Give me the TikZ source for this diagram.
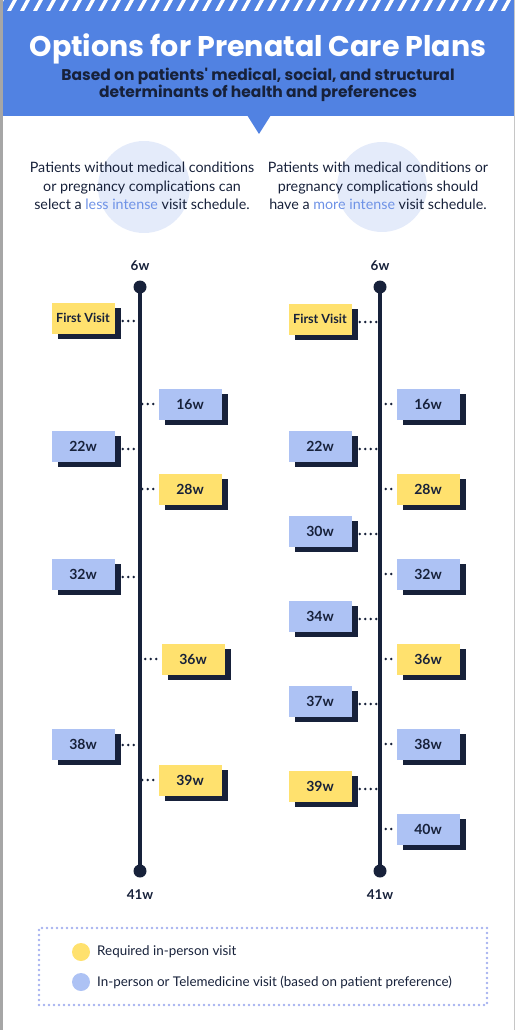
\documentclass[tikz,border=0pt]{standalone}
\usepackage{fontspec}
\setmainfont{Lato}
\newfontfamily\titlefont{Poppins}
\usetikzlibrary{positioning,shadows}
\definecolor{hdrblue}{HTML}{5182E2}
\definecolor{navy}{HTML}{17213A}
\definecolor{reqyellow}{HTML}{FFE16E}
\definecolor{teleblue}{HTML}{ADC2F4}
\definecolor{softcircle}{HTML}{E4EBFA}
\definecolor{hilite}{HTML}{6E92E6}
\definecolor{legendline}{HTML}{A6B2F0}

\begin{document}
\begin{tikzpicture}[x=1pt,y=-1pt,
  visit/.style={minimum width=63pt,minimum height=31pt,inner sep=0pt,text=navy,font=\bfseries\fontsize{14}{16}\selectfont,
    drop shadow={shadow xshift=6pt,shadow yshift=-5pt,fill=navy,opacity=1}},
  reqvisit/.style={visit,fill=reqyellow},
  televisit/.style={visit,fill=teleblue},
  firstvisit/.style={reqvisit,font=\bfseries\fontsize{12.6}{14}\selectfont},
  dotline/.style={navy,line width=2.8pt,line cap=round,dash pattern=on 0pt off 5.5pt},
  axisline/.style={navy,line width=4pt},
  axisend/.style={circle,fill=navy,minimum size=13pt,inner sep=0pt},
  weeklabel/.style={text=navy,font=\bfseries\fontsize{13.5}{15}\selectfont},
  intro/.style={align=center,text=navy,font=\fontsize{14.3}{18.5}\selectfont},
  legenddot/.style={circle,minimum size=18pt,inner sep=0pt}]
    \useasboundingbox (0,0) rectangle (516,1030);
    % page frame
    \draw[gray!70,line width=2.5pt] (1.25,0) -- (1.25,1030);
    \draw[gray!45,line width=1pt] (514.5,0) -- (514.5,1030);
    % header
    \fill[hdrblue] (3,0) rectangle (514,116);
    \fill[hdrblue] (247,115) -- (271,115) -- (259,134) -- cycle;
    \begin{scope}
        \clip (3,0) rectangle (514,11);
        \foreach \s in {-6,7,...,520}
            \fill[white] (\s,11) -- (\s+4,11) -- (\s+10,0) -- (\s+6,0) -- cycle;
    \end{scope}
    \node[text=white,font=\titlefont\bfseries\fontsize{28.5}{32}\selectfont] (title) at (258,49) {Options for Prenatal Care Plans};
    \node[text=navy,align=center,font=\titlefont\bfseries\fontsize{15.5}{16}\selectfont] (subtitle) at (258,85) {Based on patients' medical, social, and structural\\determinants of health and preferences};

    % intro texts
    \fill[softcircle] (144,187) circle (46);
    \fill[softcircle] (382,187) circle (45);
    \node[intro] (lessintro) at (142,186) {Patients without medical conditions\\or pregnancy complications can\\select a \textcolor{hilite}{less intense} visit schedule.};
    \node[intro] (moreintro) at (378,186) {Patients with medical conditions or\\pregnancy complications should\\have a \textcolor{hilite}{more intense} visit schedule.};

    % less intense timeline
    \node[axisend] (ltop) at (140,287) {};
    \node[axisend] (lbot) at (140,871) {};
    \node[weeklabel,above=6pt of ltop] (lstart) {6w};
    \node[weeklabel,below=8pt of lbot] (lend) {41w};
    \node[firstvisit] (lfirst) at (83,318) {First Visit};
    \node[televisit] (l16) at (190,404) {16w};
    \node[televisit] (l22) at (83,446) {22w};
    \node[reqvisit] (l28) at (190,489) {28w};
    \node[televisit] (l32) at (83,574) {32w};
    \node[reqvisit] (l36) at (193,659) {36w};
    \node[televisit] (l38) at (83,744) {38w};
    \node[reqvisit] (l39) at (190,780) {39w};
    \draw[dotline] ([xshift=8pt,yshift=-3pt]lfirst.east) -- ([yshift=-3pt]lfirst.east -| ltop);
    \draw[dotline] ([xshift=-5pt]l16.west) -- (l16.west -| ltop);
    \draw[dotline] ([xshift=8pt,yshift=-3pt]l22.east) -- ([yshift=-3pt]l22.east -| ltop);
    \draw[dotline] ([xshift=-5pt]l28.west) -- (l28.west -| ltop);
    \draw[dotline] ([xshift=8pt,yshift=-3pt]l32.east) -- ([yshift=-3pt]l32.east -| ltop);
    \draw[dotline] ([xshift=-5pt]l36.west) -- (l36.west -| ltop);
    \draw[dotline] ([xshift=8pt,yshift=-1pt]l38.east) -- ([yshift=-1pt]l38.east -| ltop);
    \draw[dotline] ([xshift=-5pt]l39.west) -- (l39.west -| ltop);
    \draw[axisline] (ltop.center) -- (lbot.center);

    % more intense timeline
    \node[axisend] (mtop) at (380,287) {};
    \node[axisend] (mbot) at (380,871) {};
    \node[weeklabel,above=6pt of mtop] (mstart) {6w};
    \node[weeklabel,below=8pt of mbot] (mend) {41w};
    \node[firstvisit] (mfirst) at (320,319) {First Visit};
    \node[televisit] (m16) at (428,404) {16w};
    \node[televisit] (m22) at (320,446) {22w};
    \node[reqvisit] (m28) at (428,489) {28w};
    \node[televisit] (m30) at (320,531) {30w};
    \node[televisit] (m32) at (428,574) {32w};
    \node[televisit] (m34) at (320,616) {34w};
    \node[reqvisit] (m36) at (428,659) {36w};
    \node[televisit] (m37) at (320,701) {37w};
    \node[televisit] (m38) at (428,744) {38w};
    \node[reqvisit] (m39) at (320,786) {39w};
    \node[televisit] (m40) at (428,829) {40w};
    \draw[dotline] ([xshift=8pt,yshift=-3pt]mfirst.east) -- ([yshift=-3pt]mfirst.east -| mtop);
    \draw[dotline] ([xshift=-5pt]m16.west) -- (m16.west -| mtop);
    \draw[dotline] ([xshift=8pt,yshift=-3pt]m22.east) -- ([yshift=-3pt]m22.east -| mtop);
    \draw[dotline] ([xshift=-5pt]m28.west) -- (m28.west -| mtop);
    \draw[dotline] ([xshift=8pt,yshift=-3pt]m30.east) -- ([yshift=-3pt]m30.east -| mtop);
    \draw[dotline] ([xshift=-5pt]m32.west) -- (m32.west -| mtop);
    \draw[dotline] ([xshift=8pt,yshift=-3pt]m34.east) -- ([yshift=-3pt]m34.east -| mtop);
    \draw[dotline] ([xshift=-5pt]m36.west) -- (m36.west -| mtop);
    \draw[dotline] ([xshift=8pt,yshift=-3pt]m37.east) -- ([yshift=-3pt]m37.east -| mtop);
    \draw[dotline] ([xshift=-5pt]m38.west) -- (m38.west -| mtop);
    \draw[dotline] ([xshift=8pt,yshift=-3pt]m39.east) -- ([yshift=-3pt]m39.east -| mtop);
    \draw[dotline] ([xshift=-5pt]m40.west) -- (m40.west -| mtop);
    \draw[axisline] (mtop.center) -- (mbot.center);

    % legend
    \node[draw=legendline,line width=2.8pt,line cap=round,dash pattern=on 0pt off 5pt,minimum width=448pt,minimum height=77pt] (legend) at (263,966.5) {};
    \node[legenddot,fill=reqyellow] (reqdot) at (81,952) {};
    \node[legenddot,fill=teleblue] (teledot) at (81,982) {};
    \node[right=3.5pt of reqdot,text=navy,font=\fontsize{13.4}{15}\selectfont] (reqtext) {Required in-person visit};
    \node[right=3.5pt of teledot,text=navy,font=\fontsize{13.4}{15}\selectfont] (teletext) {In-person or Telemedicine visit (based on patient preference)};
\end{tikzpicture}
\end{document}
